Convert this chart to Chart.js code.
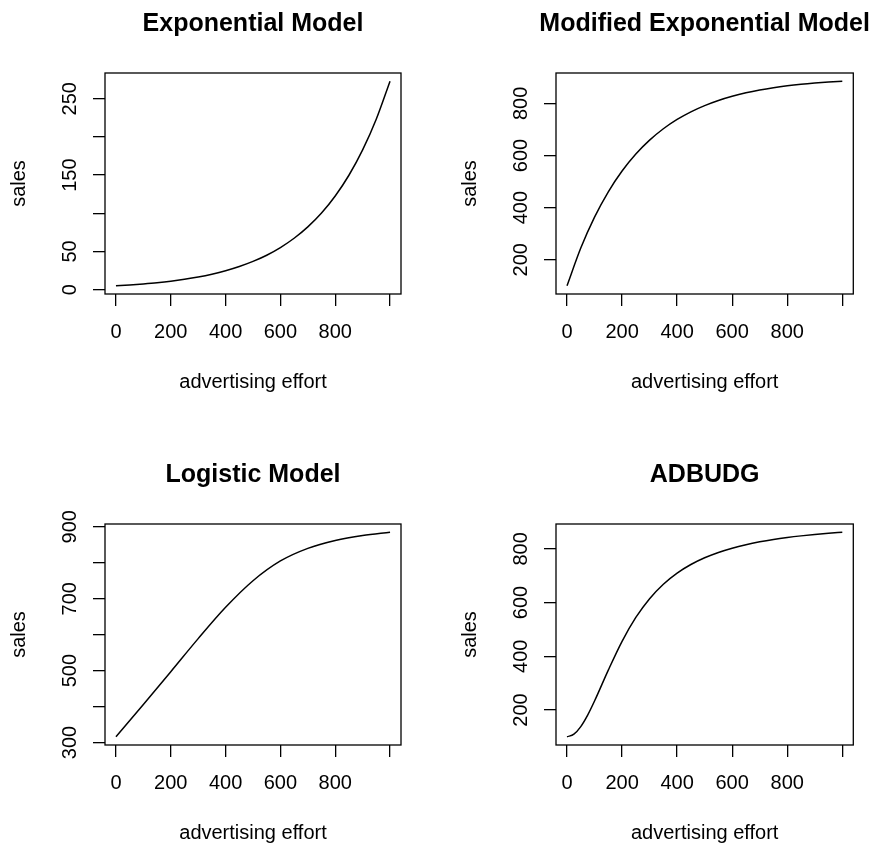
<!DOCTYPE html>
<html>
<head>
<meta charset="utf-8">
<script src="https://cdn.jsdelivr.net/npm/chart.js@4"></script>
<style>
  html, body { margin: 0; padding: 0; background: #fff; width: 874px; height: 847px; overflow: hidden; }
  canvas { position: absolute; }
</style>
</head>
<body>
<canvas id="expChart" width="451" height="451" style="left:0;top:0"></canvas>
<canvas id="modExpChart" width="423" height="451" style="left:451px;top:0"></canvas>
<canvas id="logisticChart" width="451" height="451" style="left:0;top:451px"></canvas>
<canvas id="adbudgChart" width="423" height="451" style="left:451px;top:451px"></canvas>
<script>
// --- DATA ---
const effort = [0, 50, 100, 150, 200, 250, 300, 350, 400, 450, 500,
  550, 600, 650, 700, 750, 800, 850, 900, 950, 1000];
const expSales = [5.0, 6.1, 7.5, 9.1, 11.1, 13.6, 16.6, 20.3, 24.8, 30.3, 37.0,
  45.1, 55.1, 67.3, 82.2, 100.4, 122.7, 149.8, 183.0, 223.5, 273.0];
const modExpSales = [100, 245.0, 363.7, 460.9, 540.5, 605.7, 659.0, 702.7, 738.5, 767.8, 791.7,
  811.4, 827.4, 840.6, 851.4, 860.2, 867.4, 873.3, 878.1, 882.1, 885.3];
const logisticEffort = [0, 100, 200, 300, 400, 500, 600, 700, 800, 900, 1000];
const logisticSales = [316, 406, 497, 589, 676, 750, 805, 840, 862, 876, 885];
const adbudgEffort = [0, 25, 50, 75, 100, 150, 200, 250, 300, 350, 400, 450, 500,
  550, 600, 650, 700, 750, 800, 850, 900, 950, 1000];
const adbudgSales = [100, 109.9, 138.1, 180.9, 233.3, 348.3, 455.6, 544.4, 614.3, 668.1, 709.5, 741.6, 766.7,
  786.5, 802.4, 815.3, 825.9, 834.7, 842.0, 848.2, 853.5, 858.0, 861.9];

const effortTicks = [0, 200, 400, 600, 800, 1000];
const effortLabels = [0, 200, 400, 600, 800];
const expTicks = [0, 50, 100, 150, 200, 250];
const expLabels = [0, 50, 150, 250];
const modExpTicks = [200, 400, 600, 800];
const logisticTicks = [300, 400, 500, 600, 700, 800, 900];
const logisticLabels = [300, 500, 700, 900];
const adbudgTicks = [200, 400, 600, 800];

const FONT = "'Liberation Sans', Arial, Helvetica, sans-serif";

// box around the plot region, panel title and vertical y tick labels, R style
// (title drawn here so that long titles are not squeezed to the box width)
const framePlugin = {
  id: "frame",
  afterDatasetsDraw(chart, args, opts) {
    const { ctx, chartArea: a } = chart;
    const yScale = chart.scales.y;
    ctx.save();
    ctx.strokeStyle = "#000";
    ctx.lineWidth = 1.3;
    ctx.strokeRect(a.left, a.top, a.right - a.left, a.bottom - a.top);
    ctx.fillStyle = "#000";
    ctx.textAlign = "center";
    ctx.textBaseline = "alphabetic";
    ctx.font = `bold 25px ${FONT}`;
    ctx.fillText(opts.title, (a.left + a.right) / 2, 30.5);
    ctx.font = `20px ${FONT}`;
    (opts.labels || []).forEach((v) => {
      ctx.save();
      ctx.translate(a.left - 29, yScale.getPixelForValue(v));
      ctx.rotate(-Math.PI / 2);
      ctx.fillText(String(v), 0, 0);
      ctx.restore();
    });
    ctx.restore();
  },
};

function makePanel(canvasId, title, xs, ys, yMin, yMax, yTicks, yLabels, rightPad) {
  const tickGrid = {
    display: true,
    drawOnChartArea: false,
    drawTicks: true,
    tickLength: 12,
    color: "#000",
    lineWidth: 1.3,
  };
  new Chart(document.getElementById(canvasId), {
    type: "line",
    data: {
      datasets: [{
        data: xs.map((x, i) => ({ x, y: ys[i] })),
        borderColor: "#000",
        borderWidth: 1.5,
        pointRadius: 0,
        cubicInterpolationMode: "monotone",
        fill: false,
      }],
    },
    options: {
      responsive: false,
      animation: false,
      layout: { padding: { left: 0, right: rightPad, top: 73, bottom: 56.9 } },
      scales: {
        x: {
          type: "linear",
          min: -40,
          max: 1040,
          afterBuildTicks: (s) => { s.ticks = effortTicks.map((v) => ({ value: v })); },
          ticks: {
            autoSkip: false,
            maxRotation: 0,
            padding: 14.4,
            color: "#000",
            font: { size: 20, family: FONT },
            callback: (v) => (effortLabels.includes(v) ? String(v) : ""),
          },
          grid: tickGrid,
          border: { display: false },
          title: {
            display: true,
            text: "advertising effort",
            color: "#000",
            font: { size: 20, family: FONT },
            padding: { top: 11.3, bottom: 0 },
          },
        },
        y: {
          type: "linear",
          min: yMin,
          max: yMax,
          afterBuildTicks: (s) => { s.ticks = yTicks.map((v) => ({ value: v })); },
          ticks: { display: false },
          grid: tickGrid,
          border: { display: false },
          title: {
            display: true,
            text: "sales",
            color: "#000",
            font: { size: 20, family: FONT },
            padding: { top: 7, bottom: 62 },
          },
        },
      },
      plugins: {
        legend: { display: false },
        tooltip: { enabled: false },
        title: { display: false },
        frame: { title, labels: yLabels },
      },
    },
    plugins: [framePlugin],
  });
}

makePanel("expChart", "Exponential Model", effort, expSales, -5.7, 283.7, expTicks, expLabels, 50);
makePanel("modExpChart", "Modified Exponential Model", effort, modExpSales, 68.6, 916.7, modExpTicks, modExpTicks, 20.7);
makePanel("logisticChart", "Logistic Model", logisticEffort, logisticSales, 293.2, 907.8, logisticTicks, logisticLabels, 50);
makePanel("adbudgChart", "ADBUDG", adbudgEffort, adbudgSales, 69.5, 892.4, adbudgTicks, adbudgTicks, 20.7);
</script>
</body>
</html>
